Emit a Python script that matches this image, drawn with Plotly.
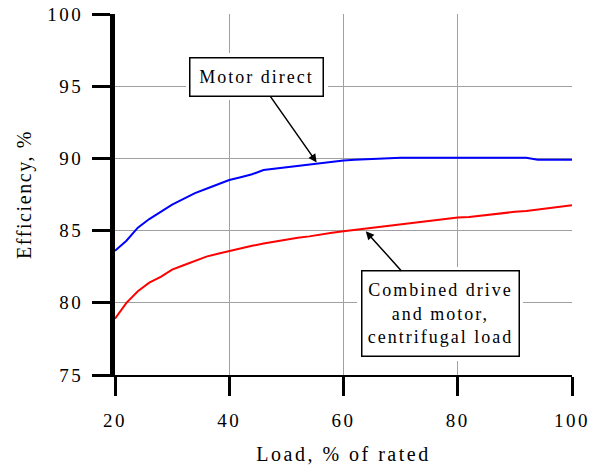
import plotly.graph_objects as go

# Efficiency vs. load, % of rated
load = [20, 22, 24, 26, 28, 30, 32, 34, 36, 38, 40, 42, 44, 46, 48, 50,
        52, 54, 56, 58, 60, 62, 64, 66, 68, 70, 72, 74, 76, 78, 80, 82,
        84, 86, 88, 90, 92, 94, 96, 98, 100]

motor_direct = [83.6, 84.3, 85.2, 85.8, 86.3, 86.8, 87.2, 87.6, 87.9, 88.2,
                88.5, 88.7, 88.9, 89.2, 89.3, 89.4, 89.5, 89.6, 89.7, 89.8,
                89.85, 89.9, 89.95, 90.0, 90.05, 90.05, 90.05, 90.05, 90.05,
                90.05, 90.05, 90.05, 90.05, 90.05, 90.05, 90.05, 90.05, 89.9,
                89.9, 89.9, 89.9]

combined = [78.9, 80.0, 80.8, 81.4, 81.8, 82.3, 82.6, 82.9, 83.2, 83.4,
            83.6, 83.8, 83.95, 84.1, 84.25, 84.35, 84.5, 84.6, 84.75, 84.85,
            84.95, 85.05, 85.15, 85.25, 85.35, 85.45, 85.5, 85.6, 85.7, 85.8,
            85.9, 85.95, 86.05, 86.1, 86.2, 86.3, 86.35, 86.45, 86.55, 86.6,
            86.75]

x_ticks = [20, 40, 60, 80, 100]
y_ticks = [75, 80, 85, 90, 95, 100]

FONT = "Liberation Serif, Times New Roman, Times, serif"


def spaced(s, ls=2):
    return f'<span style="letter-spacing:{ls}px">{s}</span>'


fig = go.Figure()
fig.add_trace(go.Scatter(x=load, y=motor_direct, mode="lines",
                         line=dict(color="#0000ff", width=2), name="Motor direct"))
fig.add_trace(go.Scatter(x=load, y=combined, mode="lines",
                         line=dict(color="#ff0000", width=2), name="Combined"))


def labelled_box(text, box_x, box_y, head_x, head_y, w, h):
    # white halo behind the box so gridlines stop short of it
    halo = dict(x=box_x, y=box_y, xref="x", yref="y", text=spaced(text),
                showarrow=False, xanchor="center", yanchor="middle",
                font=dict(family=FONT, size=18, color="rgba(0,0,0,0)"),
                bgcolor="white", borderwidth=0, borderpad=7,
                width=w, height=h)
    box = dict(x=head_x, y=head_y, xref="x", yref="y",
               ax=box_x, ay=box_y, axref="x", ayref="y",
               text=spaced(text), showarrow=True,
               arrowhead=2, arrowsize=1.1, arrowwidth=1.5, arrowcolor="black",
               font=dict(family=FONT, size=18, color="black"),
               bgcolor="white", bordercolor="black", borderwidth=1.5,
               borderpad=2, width=w, height=h)
    return [halo, box]


annotations = []
annotations += labelled_box("Motor direct", 44.8, 95.65, 55.3, 89.72, 128, 33)
annotations += labelled_box("Combined drive<br>and motor,<br>centrifugal load",
                            76.9, 79.25, 63.9, 84.95, 152, 80)

fig.update_layout(
    width=594, height=465,
    margin=dict(l=115, r=22, t=14, b=90, autoexpand=False),
    paper_bgcolor="white", plot_bgcolor="white",
    showlegend=False,
    font=dict(family=FONT, size=18, color="black"),
    annotations=annotations,
    xaxis=dict(
        range=[20, 100], tickvals=x_ticks,
        ticktext=[spaced(str(v), 2.5) for v in x_ticks],
        showgrid=True, gridcolor="#a0a0a0", gridwidth=1,
        showline=True, linecolor="black", linewidth=2,
        ticks="outside", ticklen=19, tickwidth=3, tickcolor="black",
        ticklabelstandoff=8,
        tickfont=dict(family=FONT, size=19, color="black"),
        title=dict(text=spaced("Load, % of rated", 2.5),
                   font=dict(family=FONT, size=20, color="black"), standoff=18),
        zeroline=False, automargin=False,
    ),
    yaxis=dict(
        range=[75, 100], tickvals=y_ticks,
        ticktext=[spaced(str(v), 2.5) for v in y_ticks],
        showgrid=True, gridcolor="#a0a0a0", gridwidth=1,
        showline=True, linecolor="black", linewidth=5,
        ticks="outside", ticklen=18, tickwidth=3, tickcolor="black",
        ticklabelstandoff=5,
        tickfont=dict(family=FONT, size=19, color="black"),
        title=dict(text=spaced("Efficiency, %", 1.6),
                   font=dict(family=FONT, size=20, color="black"), standoff=12),
        zeroline=False, automargin=False,
    ),
)

fig.write_html("out.html")
